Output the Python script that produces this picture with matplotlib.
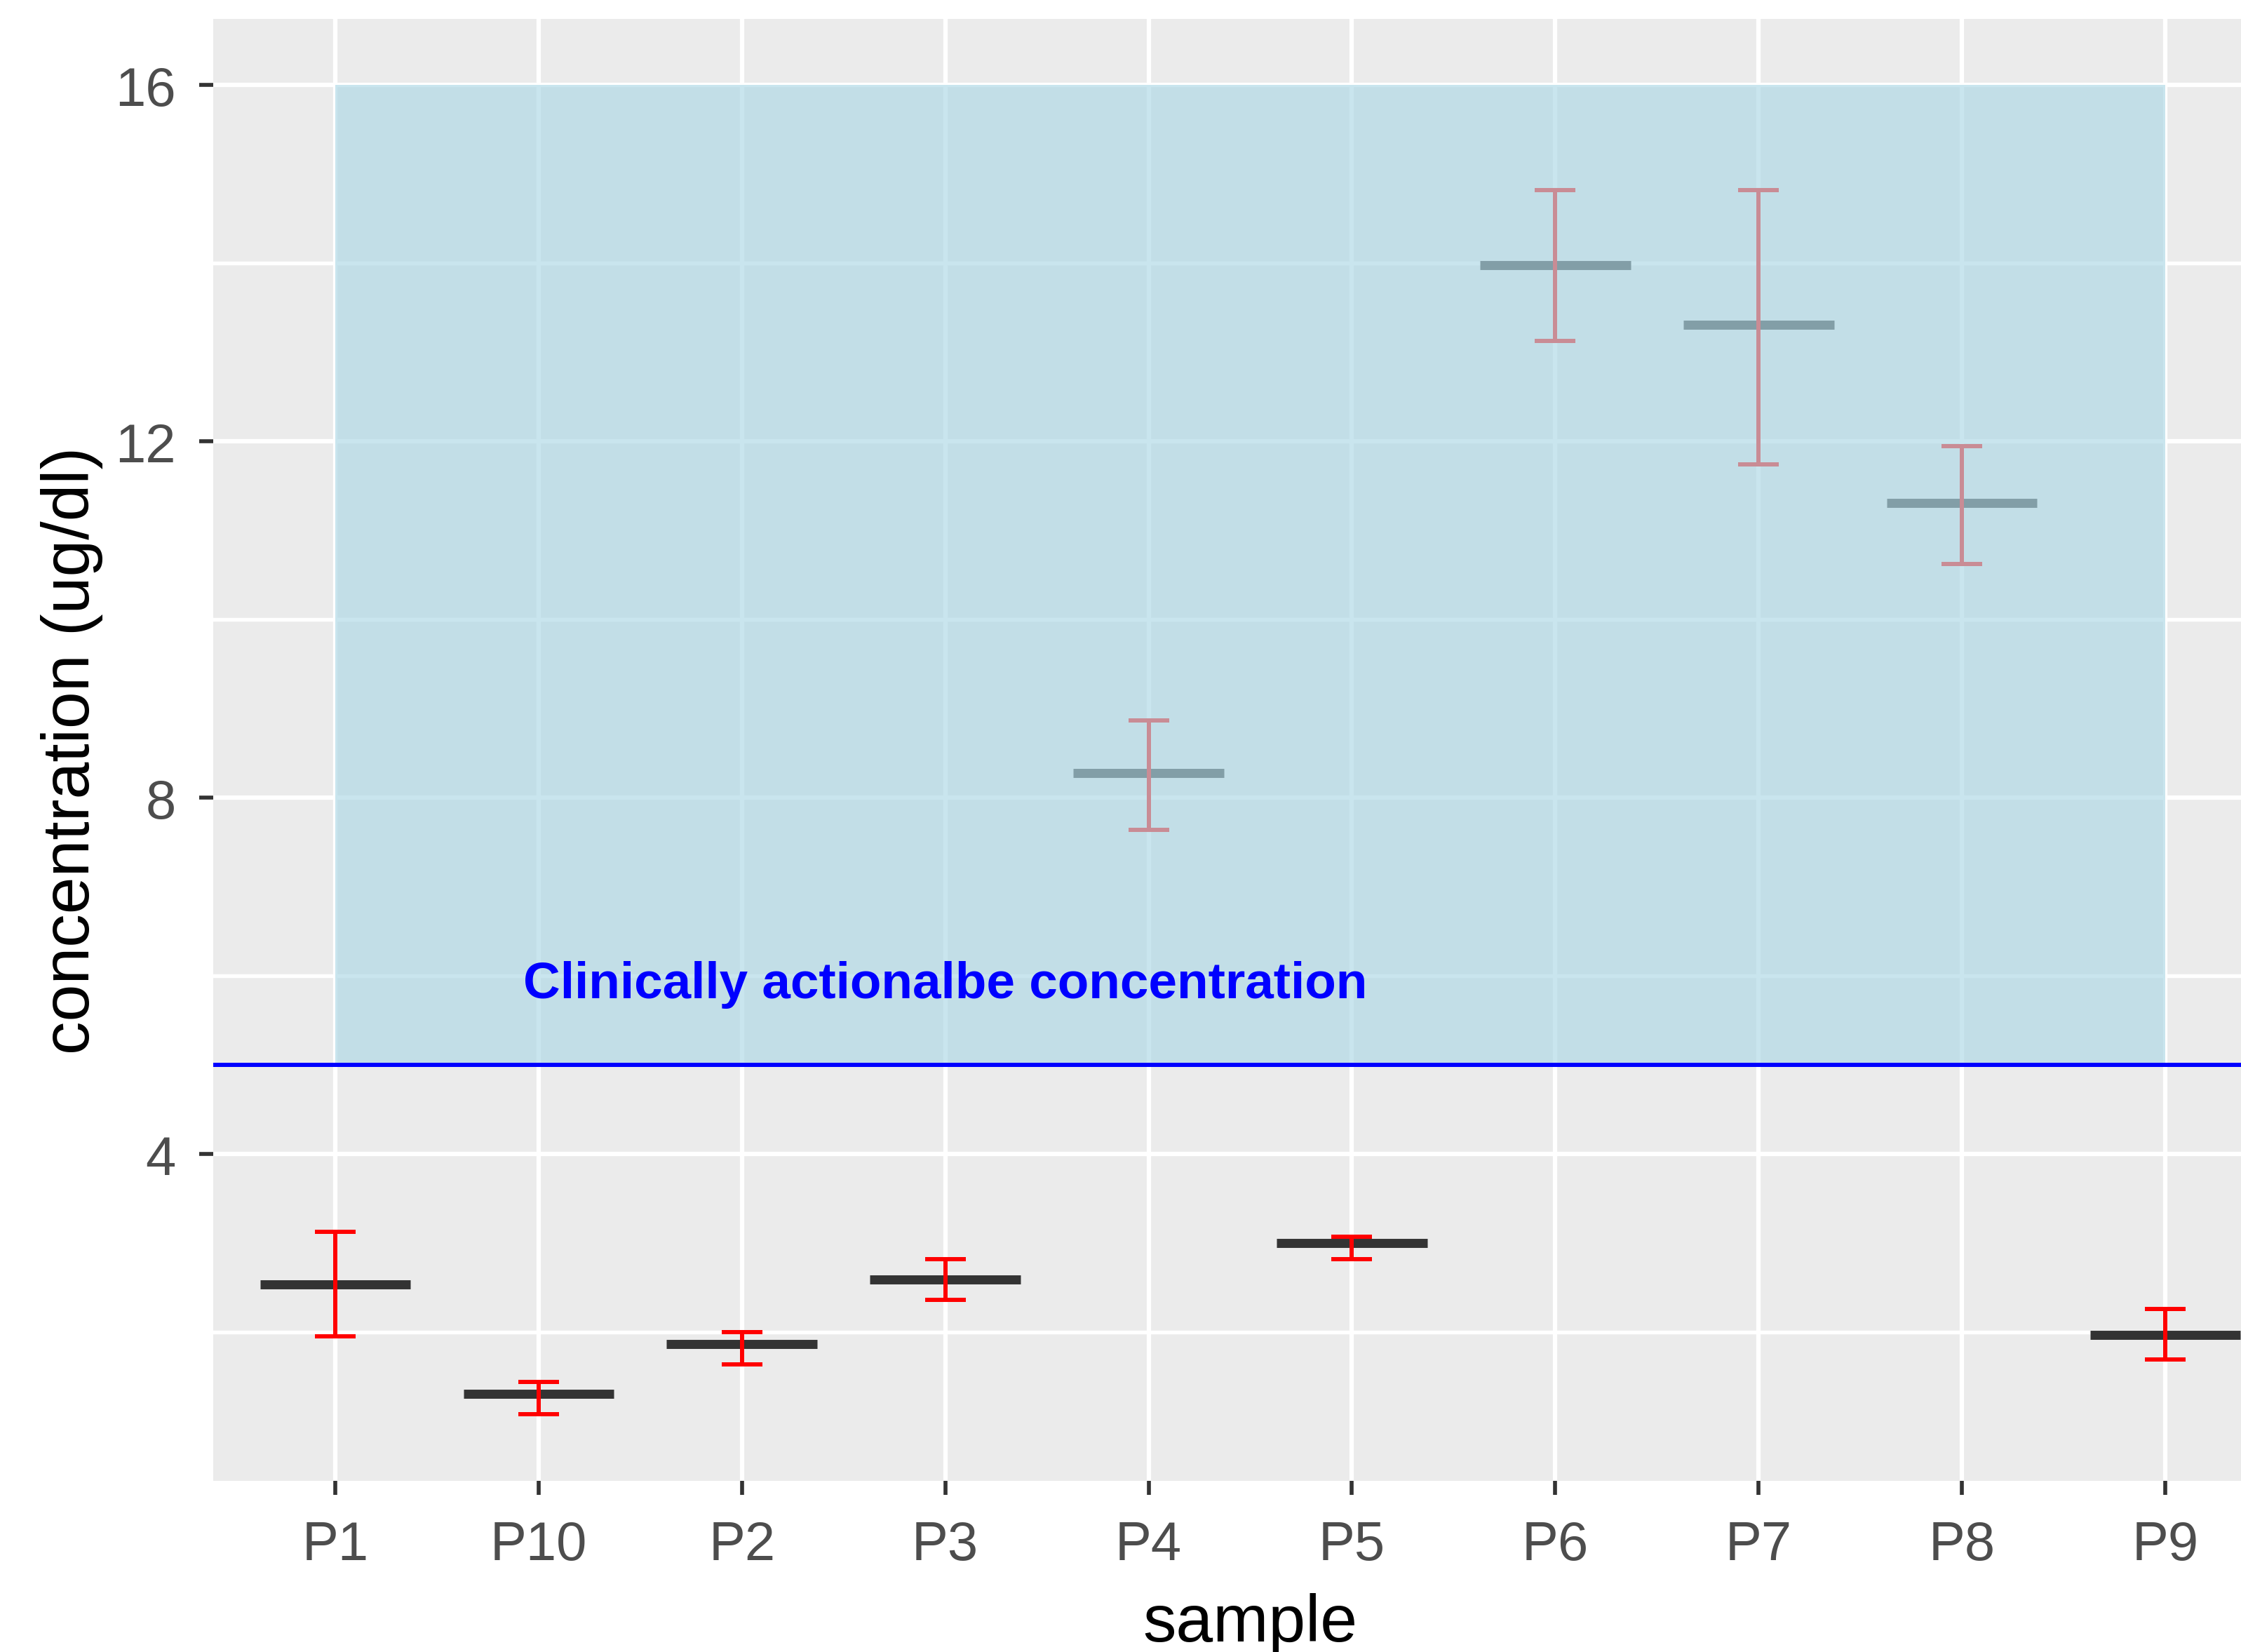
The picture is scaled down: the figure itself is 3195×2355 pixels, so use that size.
import numpy as np
import matplotlib
matplotlib.use('Agg')
import matplotlib.pyplot as plt
from matplotlib.ticker import MultipleLocator

plt.rcParams['font.family'] = ['Liberation Sans', 'DejaVu Sans']

# ── dados ──────────────────────────────────────────────────────────────────
amostras = ['P1', 'P10', 'P2', 'P3', 'P4', 'P5', 'P6', 'P7', 'P8', 'P9']
media    = [2.54, 1.31, 1.87, 2.59, 8.28, 3.00, 13.98, 13.31, 11.31, 1.97]
superior = [3.13, 1.44, 2.00, 2.82, 8.87, 3.07, 14.82, 14.82, 11.95, 2.26]
inferior = [1.95, 1.08, 1.64, 2.36, 7.64, 2.82, 13.13, 11.74, 10.62, 1.69]

limiar      = 5          # concentração clinicamente acionável
faixa_topo  = 16
faixa_ini   = 'P1'
faixa_fim   = 'P9'
rotulo      = 'Clinically actionalbe concentration'
rotulo_x    = 'P3'
rotulo_y    = 6

# ── figura ──────────────────────────────────────────────────────────────────
fig = plt.figure(figsize=(10.65, 7.8533), dpi=300)
ax = fig.add_axes([0.09515, 0.1037, 0.9255, 0.8846])
ax.set_facecolor('#EBEBEB')
for s in ax.spines.values():
    s.set_visible(False)

x = np.arange(len(amostras))

# barras de erro (vermelho) e traço da média
ax.vlines(x, inferior, superior, color='red', linewidth=1.44, capstyle='butt', zorder=3)
ax.hlines(superior, x - 0.1, x + 0.1, color='red', linewidth=1.44, capstyle='butt', zorder=3)
ax.hlines(inferior, x - 0.1, x + 0.1, color='red', linewidth=1.44, capstyle='butt', zorder=3)
ax.hlines(media, x - 0.37, x + 0.37, color='#333333', linewidth=3.1, capstyle='butt', zorder=2)

# faixa azul por cima de tudo
i0, i1 = amostras.index(faixa_ini), amostras.index(faixa_fim)
ax.fill_between([i0, i1], limiar, faixa_topo, color='lightblue', alpha=0.65,
                linewidth=0, zorder=4)
ax.axhline(limiar, color='blue', linewidth=1.44, zorder=5)
ax.annotate(rotulo, xy=(amostras.index(rotulo_x), rotulo_y), xytext=(0, -2.9),
            textcoords='offset points', color='blue', fontsize=17.5,
            fontweight='bold', ha='center', va='center', zorder=6)

# escalas (expansão estilo ggplot)
ax.set_xlim(-0.6, len(amostras) - 0.4)
lo = min(min(inferior), limiar)
hi = max(max(superior), faixa_topo)
pad = 0.05 * (hi - lo)
ax.set_ylim(lo - pad, hi + pad)

ax.set_xticks(x)
ax.set_xticklabels(amostras)
ax.yaxis.set_major_locator(MultipleLocator(4))
ax.yaxis.set_minor_locator(MultipleLocator(2))
ax.set_yticks([4, 8, 12, 16])

ax.grid(which='major', color='white', linewidth=1.5, zorder=0)
ax.grid(which='minor', axis='y', color='white', linewidth=1.3, zorder=0)
ax.set_axisbelow(True)

ax.tick_params(axis='both', which='major', length=4.8, width=1.35, color='#333333',
               labelcolor='#4D4D4D', labelsize=18.7)
ax.tick_params(axis='x', pad=8.4)
ax.tick_params(axis='y', pad=8)
ax.tick_params(which='minor', length=0)

ax.set_xlabel('sample', fontsize=22.8, color='black', labelpad=7.4)
ax.set_ylabel('concentration (ug/dl)', fontsize=22.8, color='black', labelpad=4)

fig.savefig('out.png', dpi=300)
